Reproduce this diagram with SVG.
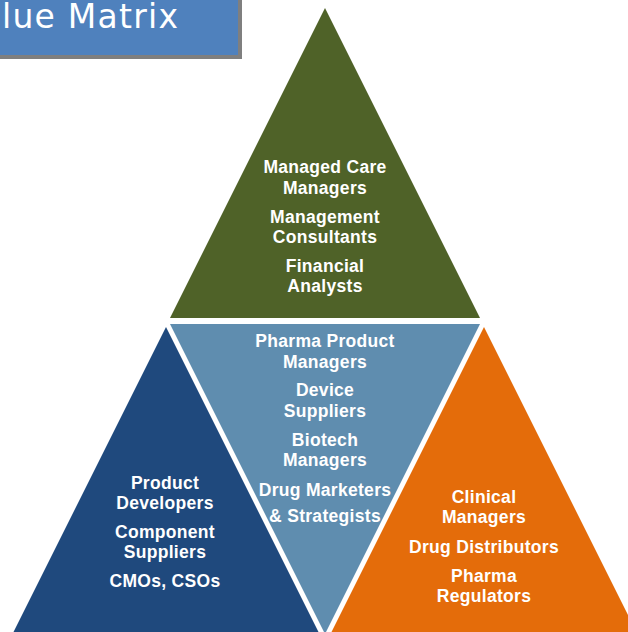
<svg xmlns="http://www.w3.org/2000/svg" width="628" height="632" viewBox="0 0 628 632">
<style>
.lbl{font-family:"Liberation Sans",Arial,sans-serif;font-weight:bold;font-size:17.5px;fill:#ffffff;text-anchor:middle;letter-spacing:0.3px}
.title{font-family:"DejaVu Sans","Liberation Sans",sans-serif;font-size:33px;fill:#ffffff}
</style>
<rect x="0" y="0" width="628" height="632" fill="#ffffff"/>
<g id="title">
<rect x="-10" y="-10" width="252" height="69" fill="#7f7f7f"/>
<rect x="-10" y="-10" width="248" height="65" fill="#4f81bd"/>
<text class="title" x="2" y="28" textLength="176" lengthAdjust="spacing">lue Matrix</text>
</g>
<g id="connectors"></g>
<g id="top">
<polygon points="325,8 480,318 170,318" fill="#4f6228"/>
<text class="lbl" x="325" y="173">Managed Care</text>
<text class="lbl" x="325" y="194">Managers</text>
<text class="lbl" x="325" y="223">Management</text>
<text class="lbl" x="325" y="243">Consultants</text>
<text class="lbl" x="325" y="272">Financial</text>
<text class="lbl" x="325" y="292">Analysts</text>
</g>
<g id="middle">
<polygon points="170,324 480,324 325,634" fill="#5f8daf"/>
<text class="lbl" x="325" y="347">Pharma Product</text>
<text class="lbl" x="325" y="368">Managers</text>
<text class="lbl" x="325" y="396">Device</text>
<text class="lbl" x="325" y="417">Suppliers</text>
<text class="lbl" x="325" y="446">Biotech</text>
<text class="lbl" x="325" y="466">Managers</text>
<text class="lbl" x="325" y="496">Drug Marketers</text>
<text class="lbl" x="325" y="522">&amp; Strategists</text>
</g>
<g id="left">
<polygon points="166,327 318.5,632 13.5,632" fill="#1f497d"/>
<text class="lbl" x="165" y="489">Product</text>
<text class="lbl" x="165" y="509">Developers</text>
<text class="lbl" x="165" y="538">Component</text>
<text class="lbl" x="165" y="558">Suppliers</text>
<text class="lbl" x="165" y="587">CMOs, CSOs</text>
</g>
<g id="right">
<polygon points="484,327 636.5,632 331.5,632" fill="#e46c0a"/>
<text class="lbl" x="484" y="503">Clinical</text>
<text class="lbl" x="484" y="523">Managers</text>
<text class="lbl" x="484" y="553">Drug Distributors</text>
<text class="lbl" x="484" y="582">Pharma</text>
<text class="lbl" x="484" y="602">Regulators</text>
</g>
</svg>
